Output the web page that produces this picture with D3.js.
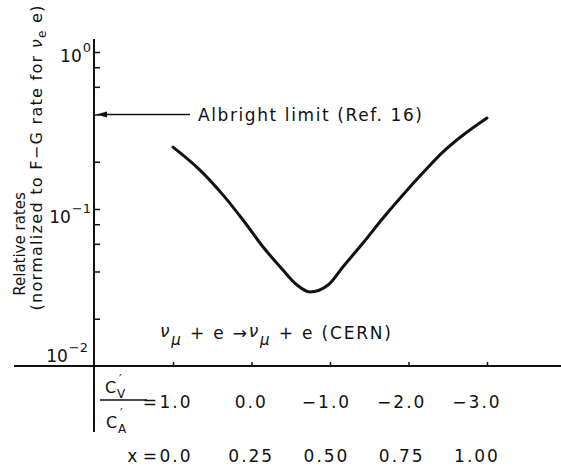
<!DOCTYPE html>
<html>
<head>
<meta charset="utf-8">
<script src="https://cdn.jsdelivr.net/npm/d3@7"></script>
<style>
  body { margin: 0; background: #fff; }
  svg text { font-family: "DejaVu Sans", sans-serif; fill: #111; }
</style>
</head>
<body>
<script>
// curve: x from 0 to 1, relative rate (log scale)
const xVals = [0.00, 0.086, 0.159, 0.223, 0.287, 0.350, 0.395, 0.436, 0.494, 0.541, 0.605, 0.669, 0.732, 0.796, 0.860, 0.924, 1.00]
const rates = [0.248, 0.177, 0.123, 0.0851, 0.0573, 0.0409, 0.0328, 0.0296, 0.0328, 0.0427, 0.0607, 0.0877, 0.123, 0.170, 0.231, 0.296, 0.380]

const xTicks = [0, 0.25, 0.5, 0.75, 1]
const ratioLabels = ["1.0", "0.0", "\u22121.0", "\u22122.0", "\u22123.0"]
const xLabels = ["0.0", "0.25", "0.50", "0.75", "1.00"]

const yTicks = [1, 0.8, 0.6, 0.4, 0.2, 0.1, 0.08, 0.06, 0.04, 0.02]
const yDecades = [1, 0.1, 0.01]
const yExponents = ["0", "\u22121", "\u22122"]

const albright = 0.4

const m = { width: 561, height: 470 }

const svg = d3.select("body").append("svg")
    .attr("width", m.width)
    .attr("height", m.height)

const x = d3.scaleLinear().domain([0, 1]).range([173, 487])
// hand lettered labels sit a little off the ticks
const xLab = d3.scaleLinear().domain([0, 1]).range([176, 477])
const y = d3.scaleLog().domain([0.01, 1]).range([366, 52])

const axisX = 94
const ink = "#111"

// vertical axis line
svg.append("line")
    .attr("x1", axisX).attr("x2", axisX)
    .attr("y1", 39).attr("y2", 432)
    .attr("stroke", ink).attr("stroke-width", 2)

// horizontal axis line at 10^-2
svg.append("line")
    .attr("x1", 14).attr("x2", m.width)
    .attr("y1", y(0.01)).attr("y2", y(0.01))
    .attr("stroke", ink).attr("stroke-width", 2)

// y ticks
const yAxis = svg.append("g")
    .attr("transform", `translate(${axisX},0)`)
    .call(d3.axisRight(y).tickValues(yTicks).tickSize(6).tickFormat(""))
yAxis.select(".domain").remove()
yAxis.selectAll("line").attr("stroke", ink).attr("stroke-width", 1.5)

// x ticks
const xAxis = svg.append("g")
    .attr("transform", `translate(0,${y(0.01)})`)
    .call(d3.axisTop(x).tickValues(xTicks).tickSize(4).tickFormat(""))
xAxis.select(".domain").remove()
xAxis.selectAll("line").attr("stroke", ink).attr("stroke-width", 1.5)

// decade labels
const dec = svg.selectAll(".dec")
    .data(yDecades)
    .enter()
    .append("text")
        .attr("class", "dec")
        .attr("text-anchor", "end")
        .attr("x", function(d, i) { return i == 2 ? axisX - 6 : axisX - 3 })
        .attr("y", function(d, i) { return i == 2 ? y(d) - 4 : y(d) + (i == 0 ? 10 : 14) })
        .attr("font-size", 17)
dec.append("tspan").text("10")
dec.append("tspan")
    .attr("font-size", 13)
    .attr("dy", -10)
    .attr("dx", 1)
    .text(function(d, i) { return yExponents[i] })

// the curve
const line = d3.line()
    .x(function(d, i) { return x(xVals[i]) })
    .y(function(d) { return y(d) })
    .curve(d3.curveMonotoneX)

svg.append("path")
    .datum(rates)
    .attr("d", line)
    .attr("fill", "none")
    .attr("stroke", ink)
    .attr("stroke-width", 3)
    .attr("stroke-linecap", "round")
    .attr("stroke-linejoin", "round")

// Albright limit arrow
svg.append("line")
    .attr("x1", 190).attr("x2", axisX + 8)
    .attr("y1", y(albright)).attr("y2", y(albright))
    .attr("stroke", ink).attr("stroke-width", 1.3)
svg.append("path")
    .attr("d", `M${axisX + 2},${y(albright)} l11,-3 l0,6 z`)
    .attr("fill", ink)
svg.append("text")
    .attr("x", 198)
    .attr("y", y(albright) + 7)
    .attr("font-size", 17)
    .attr("textLength", 224)
    .attr("lengthAdjust", "spacing")
    .text("Albright limit  (Ref. 16)")

// reaction label
const react = svg.append("text")
    .attr("x", 160)
    .attr("y", 339)
    .attr("font-size", 17)
    .attr("textLength", 231)
    .attr("lengthAdjust", "spacing")
react.append("tspan").attr("font-style", "italic").attr("dy", -2).text("\u03bd")
react.append("tspan").attr("font-style", "italic").attr("font-size", 15).attr("dy", 8).text("\u03bc")
react.append("tspan").attr("dy", -6).text(" + e ")
react.append("tspan").text("\u2192")
react.append("tspan").attr("font-style", "italic").attr("dy", -2).text("\u03bd")
react.append("tspan").attr("font-style", "italic").attr("font-size", 15).attr("dy", 8).text("\u03bc")
react.append("tspan").attr("dy", -6).text(" + e   (CERN)")

// y axis title
const title = svg.append("g")
title.append("text")
    .attr("transform", "translate(25,244) rotate(-90)")
    .attr("text-anchor", "middle")
    .attr("font-size", 15)
    .text("Relative rates")
const t2 = title.append("text")
    .attr("transform", "translate(42,158) rotate(-90)")
    .attr("text-anchor", "middle")
    .attr("font-size", 16)
    .attr("textLength", 305)
    .attr("lengthAdjust", "spacing")
t2.append("tspan").text("(normalized to F\u2212G rate for ")
t2.append("tspan").attr("font-style", "italic").text("\u03bd")
t2.append("tspan").attr("font-size", 12).attr("dy", 4).text("e")
t2.append("tspan").attr("dy", -4).text(" e)")

// C'V / C'A fraction
const frac = svg.append("g").attr("font-size", 16)
frac.append("text").attr("x", 105).attr("y", 393).text("C")
frac.append("text").attr("x", 119).attr("y", 383).attr("font-size", 12).text("\u2032")
frac.append("text").attr("x", 117).attr("y", 398).attr("font-size", 12).text("V")
frac.append("line")
    .attr("x1", 100).attr("x2", 147)
    .attr("y1", 400).attr("y2", 400)
    .attr("stroke", ink).attr("stroke-width", 1.5)
frac.append("text").attr("x", 106).attr("y", 428).text("C")
frac.append("text").attr("x", 120).attr("y", 417).attr("font-size", 12).text("\u2032")
frac.append("text").attr("x", 118).attr("y", 433).attr("font-size", 12).text("A")
frac.append("text").attr("x", 157).attr("y", 408).attr("text-anchor", "end").attr("font-size", 17).text("=")

// ratio row and x row
svg.selectAll(".ratio")
    .data(ratioLabels)
    .enter()
    .append("text")
        .attr("class", "ratio")
        .attr("x", function(d, i) { return xLab(xTicks[i]) })
        .attr("y", 408)
        .attr("text-anchor", "middle")
        .attr("font-size", 17)
        .attr("letter-spacing", 2)
        .text(function(d) { return d })

svg.append("text")
    .attr("x", 157).attr("y", 462)
    .attr("text-anchor", "end")
    .attr("font-size", 17)
    .text("x =")

svg.selectAll(".xlab")
    .data(xLabels)
    .enter()
    .append("text")
        .attr("class", "xlab")
        .attr("x", function(d, i) { return xLab(xTicks[i]) })
        .attr("y", 462)
        .attr("text-anchor", "middle")
        .attr("font-size", 17)
        .attr("letter-spacing", 2)
        .text(function(d) { return d })
</script>
</body>
</html>
